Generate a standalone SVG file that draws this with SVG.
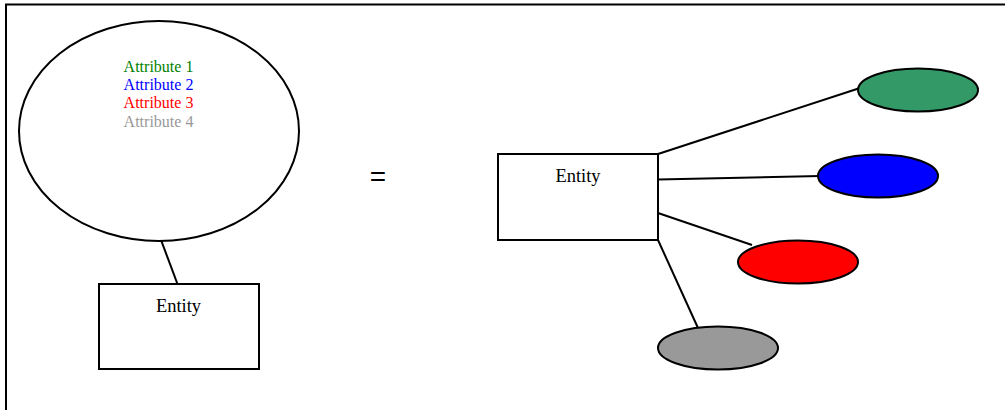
<svg xmlns="http://www.w3.org/2000/svg" width="1005" height="410" viewBox="0 0 1005 410">
<style>
.ln{stroke:#000;stroke-width:2;fill:none}
.box{stroke:#000;stroke-width:2;fill:#fff}
.el{stroke:#000;stroke-width:2}
.t{font-family:"Liberation Serif",serif;font-size:18.5px;text-anchor:middle;fill:#000}
.a{font-family:"Liberation Serif",serif;font-size:16px;text-anchor:middle}
</style>
<rect x="6" y="4.5" width="1010" height="420" fill="#fff" stroke="#000" stroke-width="2"/>
<g id="connectors">
<line class="ln" x1="161" y1="240" x2="177.5" y2="284"/>
<line class="ln" x1="658" y1="154" x2="860" y2="88"/>
<line class="ln" x1="658" y1="179.5" x2="820" y2="176"/>
<line class="ln" x1="658" y1="213" x2="752" y2="245"/>
<line class="ln" x1="658" y1="240" x2="698" y2="328"/>
</g>
<g id="attributes">
<ellipse class="el" cx="159" cy="131" rx="140" ry="110" fill="#fff"/>
<text class="a" x="158.5" y="72" fill="#008000">Attribute 1</text>
<text class="a" x="158.5" y="90" fill="#0000ff">Attribute 2</text>
<text class="a" x="158.5" y="108" fill="#ff0000">Attribute 3</text>
<text class="a" x="158.5" y="127" fill="#999999">Attribute 4</text>
</g>
<g id="entity1">
<rect class="box" x="99" y="284" width="160" height="85"/>
<text class="t" x="178.5" y="312">Entity</text>
</g>
<g id="equals">
<text x="378" y="186" font-family="Liberation Sans,sans-serif" font-size="28" text-anchor="middle">=</text>
</g>
<g id="entity2">
<rect class="box" x="498" y="154" width="160" height="86"/>
<text class="t" x="578" y="182">Entity</text>
</g>
<g id="attr1"><ellipse class="el" cx="918" cy="90" rx="60" ry="21.5" fill="#339966"/></g>
<g id="attr2"><ellipse class="el" cx="878" cy="176" rx="60" ry="21.5" fill="#0000ff"/></g>
<g id="attr3"><ellipse class="el" cx="798" cy="262" rx="60" ry="21.5" fill="#ff0000"/></g>
<g id="attr4"><ellipse class="el" cx="718" cy="348" rx="60" ry="21.5" fill="#999999"/></g>
</svg>
